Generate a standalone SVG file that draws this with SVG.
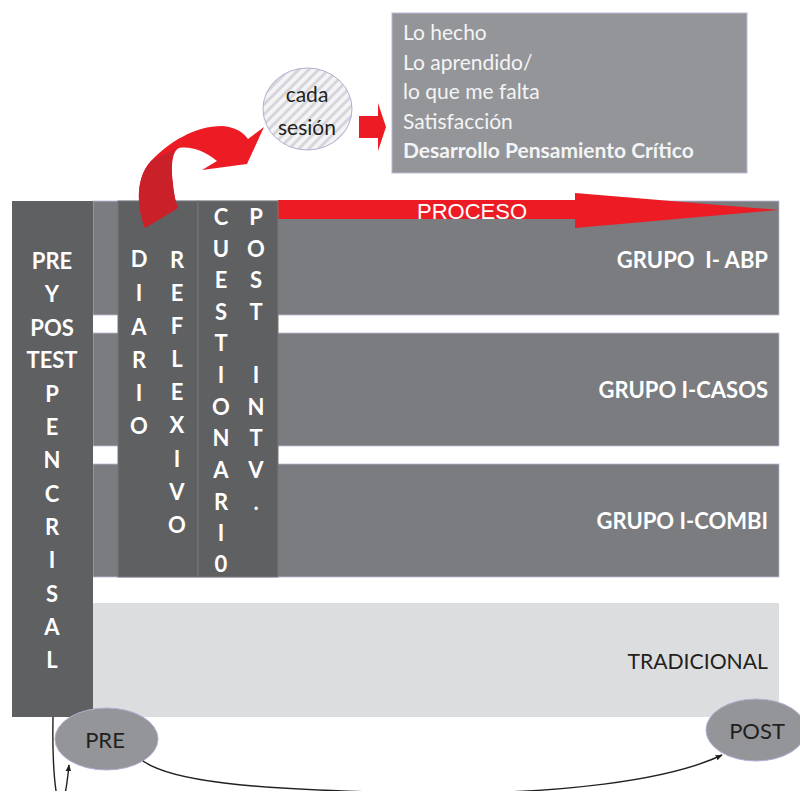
<svg xmlns="http://www.w3.org/2000/svg" width="800" height="791" viewBox="0 0 800 791">
<style>
.bar{fill:#7b7c80;stroke:#bdb8d6;stroke-width:0.8}
.col{fill:#5f6062;stroke:#76777b;stroke-width:1}
.lt{font-family:Lato,"Open Sans","Liberation Sans",sans-serif;font-weight:bold;font-size:22px;fill:#ffffff;text-anchor:middle}
.grp{font-family:Lato,"Open Sans","Liberation Sans",sans-serif;font-weight:bold;font-size:22px;fill:#ffffff;text-anchor:end}
.dark{font-family:Lato,"Open Sans","Liberation Sans",sans-serif;font-size:22px;fill:#231f20}
.box{font-family:Lato,"Open Sans","Liberation Sans",sans-serif;font-size:21px;fill:#f4f4f5}
.ell{fill:#939598;stroke:#b3aed3;stroke-width:1}
.conn{fill:none;stroke:#231f20;stroke-width:1.4}
</style>
<defs>
<pattern id="hatch" width="7" height="7" patternUnits="userSpaceOnUse" patternTransform="rotate(45)">
<rect width="7" height="7" fill="#f4f4f6"/>
<rect width="3" height="7" fill="#d6d6da"/>
</pattern>
<marker id="ah" viewBox="0 0 10 10" refX="9" refY="5" markerWidth="7" markerHeight="7" orient="auto" markerUnits="userSpaceOnUse">
<path d="M0,1 L10,5 L0,9 Z" fill="#231f20"/>
</marker>
</defs>

<g id="tradicional">
<rect x="93" y="603" width="686" height="114" fill="#dcdddf"/>
<text class="dark" x="768" y="669" text-anchor="end" style="font-size:21.2px">TRADICIONAL</text>
</g>
<g id="grupo-abp">
<rect class="bar" x="93" y="201" width="686" height="114"/>
<text class="grp" x="768" y="268" xml:space="preserve">GRUPO  I- ABP</text>
</g>
<g id="grupo-casos">
<rect class="bar" x="93" y="333" width="686" height="113"/>
<text class="grp" x="768" y="398">GRUPO I-CASOS</text>
</g>
<g id="grupo-combi">
<rect class="bar" x="93" y="464" width="686" height="113"/>
<text class="grp" x="768" y="529">GRUPO I-COMBI</text>
</g>

<g id="proceso">
<polygon points="278,200 575,200 575,193 779,210 575,228 575,219 278,219" fill="#ed1c24"/>
<text x="417" y="219" font-family="'Liberation Sans',Arial,sans-serif" font-size="22" fill="#ffffff">PROCESO</text>
</g>

<g id="pre-pos-test">
<rect x="12" y="201" width="81" height="516" fill="#5f6062"/>
<text class="lt"><tspan x="52" y="269">PRE</tspan><tspan x="52" y="302">Y</tspan><tspan x="52" y="336">POS</tspan><tspan x="52" y="368">TEST</tspan><tspan x="52" y="402">P</tspan><tspan x="52" y="435">E</tspan><tspan x="52" y="468">N</tspan><tspan x="52" y="502">C</tspan><tspan x="52" y="535">R</tspan><tspan x="52" y="568">I</tspan><tspan x="52" y="602">S</tspan><tspan x="52" y="635">A</tspan><tspan x="52" y="668">L</tspan></text>
</g>

<g id="diario-reflexivo">
<rect class="col" x="118" y="201" width="80" height="376"/>
<text class="lt"><tspan x="139" y="267">D</tspan><tspan x="139" y="301">I</tspan><tspan x="139" y="335">A</tspan><tspan x="139" y="368">R</tspan><tspan x="139" y="401">I</tspan><tspan x="139" y="434">O</tspan></text>
<text class="lt"><tspan x="177" y="268">R</tspan><tspan x="177" y="301">E</tspan><tspan x="177" y="334">F</tspan><tspan x="177" y="367">L</tspan><tspan x="177" y="400">E</tspan><tspan x="177" y="433">X</tspan><tspan x="177" y="467">I</tspan><tspan x="177" y="500">V</tspan><tspan x="177" y="533">O</tspan></text>
</g>

<g id="cuestionario-post">
<rect class="col" x="198" y="201" width="80" height="376"/>
<text class="lt"><tspan x="221" y="225">C</tspan><tspan x="221" y="257">U</tspan><tspan x="221" y="288">E</tspan><tspan x="221" y="320">S</tspan><tspan x="221" y="351">T</tspan><tspan x="221" y="383">I</tspan><tspan x="221" y="415">O</tspan><tspan x="221" y="446">N</tspan><tspan x="221" y="478">A</tspan><tspan x="221" y="510">R</tspan><tspan x="221" y="541">I</tspan><tspan x="221" y="572">0</tspan></text>
<text class="lt"><tspan x="256" y="225">P</tspan><tspan x="256" y="257">O</tspan><tspan x="256" y="288">S</tspan><tspan x="256" y="320">T</tspan><tspan x="256" y="383">I</tspan><tspan x="256" y="415">N</tspan><tspan x="256" y="446">T</tspan><tspan x="256" y="478">V</tspan><tspan x="256" y="510">.</tspan></text>
</g>

<g id="curved-arrow">
<path d="M145,228 C136,205 136,177 151,161 C169,142 195,126 222,126 C235,127 243,132 248,139 L264,127 L247,164 L202,170 L217,161 C205,151 191,146 179,148 C171,152 171,170 173,185 C174,195 176,203 178,208 Z" fill="#ed1c24"/>
<path d="M145,228 C136,205 136,177 151,161 L176,148 C171,155 171,170 173,185 C174,195 176,203 178,208 Z" fill="#c9202a"/>
</g>

<g id="cada-sesion">
<ellipse cx="307.5" cy="109" rx="44.5" ry="41" fill="url(#hatch)" stroke="#b3aed3" stroke-width="1"/>
<text class="dark" text-anchor="middle" style="font-size:21px"><tspan x="307" y="102">cada</tspan><tspan x="307" y="135">sesión</tspan></text>
</g>

<g id="small-arrow">
<polygon points="359,116 378,116 378,103 386,127 378,151 378,138 359,138" fill="#ed1c24"/>
</g>

<g id="resultado">
<rect x="392" y="13" width="355" height="160" fill="#939598" stroke="#bdb8d6" stroke-width="1"/>
<text class="box"><tspan x="403" y="40">Lo hecho</tspan><tspan x="403" y="70">Lo aprendido/</tspan><tspan x="403" y="99">lo que me falta</tspan><tspan x="403" y="129">Satisfacción</tspan><tspan x="403" y="158" font-weight="bold">Desarrollo Pensamiento Crítico</tspan></text>
</g>

<g id="pre">
<ellipse class="ell" cx="106.5" cy="739" rx="51.5" ry="31"/>
<text class="dark" x="105" y="748" text-anchor="middle">PRE</text>
</g>
<g id="post">
<ellipse class="ell" cx="756" cy="730" rx="50" ry="31"/>
<text class="dark" x="757" y="739" text-anchor="middle">POST</text>
</g>

<g id="connectors">
<path class="conn" d="M53,717 C52,770 56,800 60,805 C64,806 67,785 69,765" marker-end="url(#ah)"/>
<path class="conn" d="M143,761 C170,780 240,790 420,793 C560,795 670,780 722,755" marker-end="url(#ah)"/>
</g>
</svg>
